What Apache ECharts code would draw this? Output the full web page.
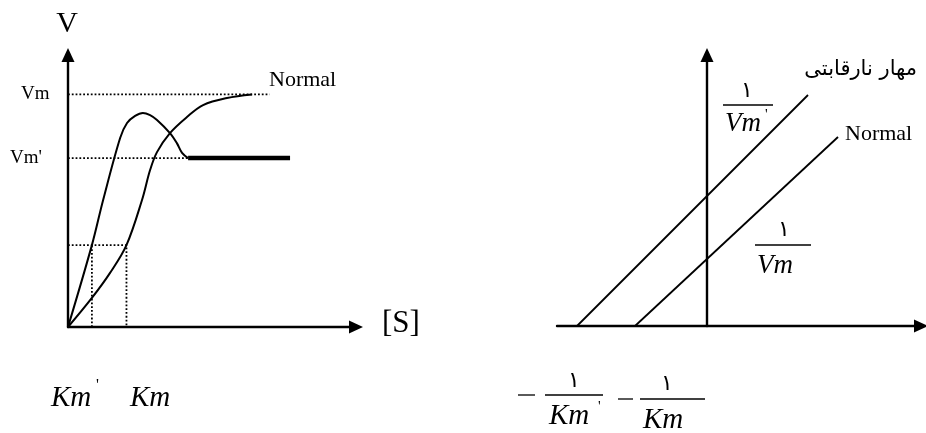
<!DOCTYPE html>
<html>
<head>
<meta charset="utf-8">
<script src="https://cdn.jsdelivr.net/npm/echarts@6/dist/echarts.min.js"></script>
<style>
html,body{margin:0;padding:0;background:#fff;}
#c{width:926px;height:433px;}
</style>
</head>
<body>
<div id="c"></div>
<script>
// ---- Michaelis-Menten panel (left), arbitrary units ----
var normalCurve = [[0,0],[8.3,10.7],[14.6,19.9],[20.3,30.1],[25.7,46.7],[28.5,57.7],[30.9,64.3],[35.4,71.3],[41.3,77.2],[46.9,81.6],[55.2,84.2],[63.9,85.5]];
var inhibitedCurve = [[0,0],[8.3,30.1],[12.2,46.7],[18.1,69.5],[20.5,75.0],[23.3,77.6],[26.0,78.7],[28.5,77.9],[30.9,76.1],[35.4,71.3],[37.8,67.6],[39.6,64.0],[41.7,62.1]];
var plateau = [[41.7,62.1],[77.1,62.1]];
var vmValue = 85.5;
var vmPrimeValue = 62.1;
var guideEnd = 70;
var kmValue = 20.3;
var kmPrimeValue = 8.3;
var halfLevel = 30.1;

// ---- Lineweaver-Burk panel (right) ----
var lbNormal = [[-7.2,0],[13.1,18.9]];
var lbInhibited = [[-13.0,0],[10.1,23.1]];

var serif = 'Liberation Serif';
var dotted = [1.8, 2];

var chart = echarts.init(document.getElementById('c'), null, {renderer:'canvas'});

function axisLine(){
  return {show:true, onZero:true, symbol:['none','triangle'], symbolSize:[13,14],
          lineStyle:{color:'#000', width:2.4}};
}
function hiddenBits(){
  return {axisTick:{show:false}, axisLabel:{show:false}, splitLine:{show:false}};
}

function txt(text, x, y, size, opts){
  opts = opts || {};
  return {type:'text', silent:true, style:{text:text, x:x, y:y, fontSize:size,
    fontFamily: opts.family || serif, fontStyle: opts.italic ? 'italic' : 'normal',
    fill:'#000', align: opts.align || 'left', verticalAlign:'middle'}};
}
function bar(x1,y,x2,w){
  return {type:'line', silent:true, shape:{x1:x1,y1:y,x2:x2,y2:y}, style:{stroke:'#000', lineWidth:w||1.3}};
}

var option = {
  animation:false,
  backgroundColor:'#fff',
  grid:[
    {left:68, top:55, width:288, height:272},
    {left:557, top:55, width:364, height:271}
  ],
  xAxis:[
    Object.assign({type:'value', gridIndex:0, min:0, max:100, axisLine:axisLine()}, hiddenBits()),
    Object.assign({type:'value', gridIndex:1, min:-15, max:21.4, axisLine:axisLine()}, hiddenBits())
  ],
  yAxis:[
    Object.assign({type:'value', gridIndex:0, min:0, max:100, axisLine:axisLine()}, hiddenBits()),
    Object.assign({type:'value', gridIndex:1, min:0, max:27.1, axisLine:axisLine()}, hiddenBits())
  ],
  series:[
    {type:'line', xAxisIndex:0, yAxisIndex:0, data:[[0,vmValue],[guideEnd,vmValue]], symbol:'none', lineStyle:{color:'#000', width:1.8, type:dotted}},
    {type:'line', xAxisIndex:0, yAxisIndex:0, data:[[0,vmPrimeValue],[guideEnd,vmPrimeValue]], symbol:'none', lineStyle:{color:'#000', width:1.8, type:dotted}},
    {type:'line', xAxisIndex:0, yAxisIndex:0, data:[[kmPrimeValue,0],[kmPrimeValue,halfLevel]], symbol:'none', lineStyle:{color:'#000', width:1.8, type:dotted}},
    {type:'line', xAxisIndex:0, yAxisIndex:0, data:[[0,halfLevel],[kmValue,halfLevel],[kmValue,0]], symbol:'none', lineStyle:{color:'#000', width:1.8, type:dotted}},
    {type:'line', xAxisIndex:0, yAxisIndex:0, data:normalCurve, symbol:'none', smooth:0.35, lineStyle:{color:'#000', width:2}},
    {type:'line', xAxisIndex:0, yAxisIndex:0, data:inhibitedCurve, symbol:'none', smooth:0.35, lineStyle:{color:'#000', width:2}},
    {type:'line', xAxisIndex:0, yAxisIndex:0, data:plateau, symbol:'none', lineStyle:{color:'#000', width:4.5}},
    {type:'line', xAxisIndex:1, yAxisIndex:1, data:lbInhibited, symbol:'none', lineStyle:{color:'#000', width:1.8}},
    {type:'line', xAxisIndex:1, yAxisIndex:1, data:lbNormal, symbol:'none', lineStyle:{color:'#000', width:1.8}}
  ],
  graphic:[
    txt('V', 67, 24, 30, {align:'center'}),
    txt('Vm', 21, 94, 19),
    txt("Vm'", 10, 158, 19),
    txt('Normal', 269, 80, 22),
    txt('[S]', 382, 324, 31),
    txt('Km', 51, 398, 29, {italic:true}),
    txt("'", 96, 386, 16),
    txt('Km', 130, 398, 29, {italic:true}),
    // right panel
    txt('مهار نارقابتی', 917, 70, 21, {align:'right', family:'DejaVu Sans'}),
    txt('Normal', 845, 134, 22),
    txt('١', 747, 91, 22, {align:'center', family:'DejaVu Sans'}),
    bar(723, 105, 773),
    txt('Vm', 725, 124, 27, {italic:true}),
    txt("'", 765, 115, 15),
    txt('١', 784, 230, 22, {align:'center', family:'DejaVu Sans'}),
    bar(755, 245, 811),
    txt('Vm', 757, 266, 27, {italic:true}),
    bar(518, 395, 535),
    txt('١', 574, 381, 22, {align:'center', family:'DejaVu Sans'}),
    bar(545, 395, 603),
    txt('Km', 549, 416, 29, {italic:true}),
    txt("'", 598, 407, 15),
    bar(618, 399, 633),
    txt('١', 667, 384, 22, {align:'center', family:'DejaVu Sans'}),
    bar(640, 399, 705),
    txt('Km', 643, 420, 29, {italic:true})
  ]
};
chart.setOption(option);
</script>
</body>
</html>
